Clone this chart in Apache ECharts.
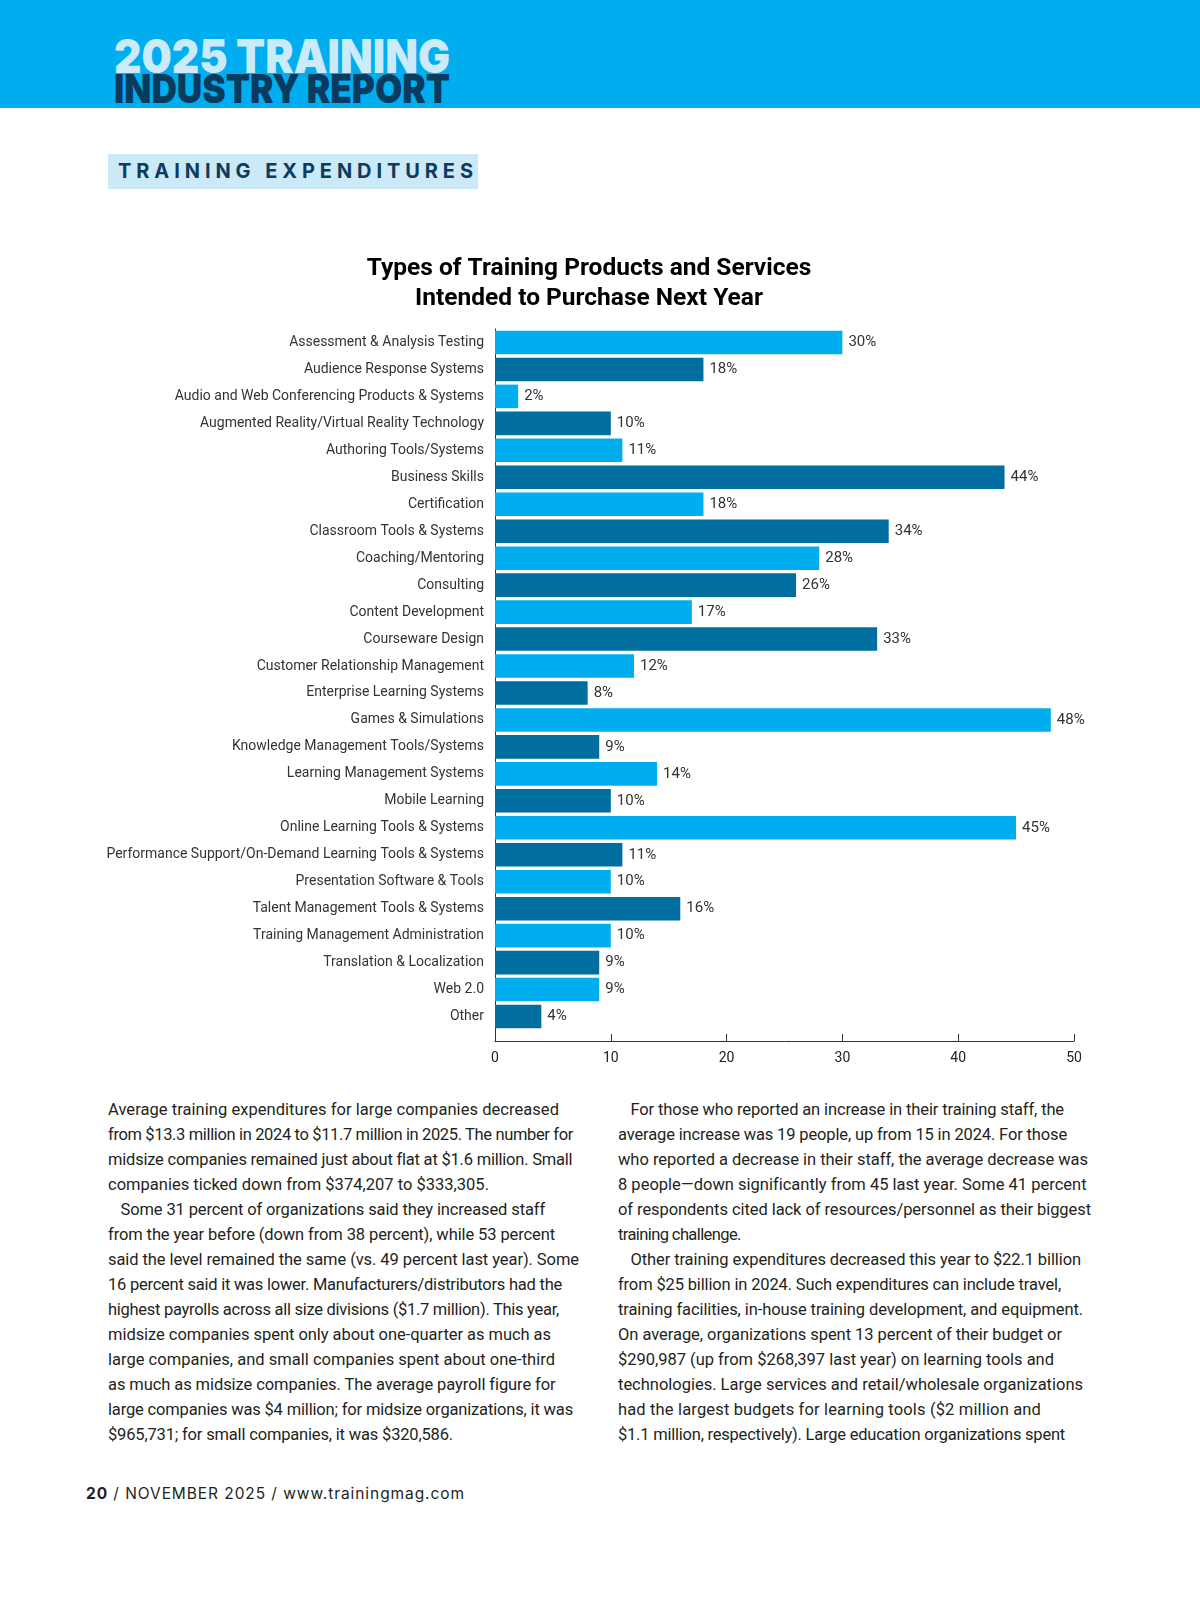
<!DOCTYPE html>
<html><head><meta charset="utf-8">
<script src="https://cdn.jsdelivr.net/npm/echarts@6/dist/echarts.min.js"></script>
<style>
html,body{margin:0;padding:0;background:#fff;}
body{width:1200px;height:1613px;position:relative;overflow:hidden;font-family:Roboto,sans-serif;}
#band{position:absolute;left:0;top:0;width:1200px;height:108px;background:#00AEEF;}
.hd{position:absolute;left:114px;font-family:Inter,sans-serif;font-weight:900;white-space:nowrap;transform-origin:0 0;line-height:1;}
#h1{top:32px;font-size:47px;color:#CBEAFA;}
#h2{top:69px;font-size:40px;color:#083B5E;}
#sec{position:absolute;left:108px;top:154px;width:370px;height:35px;background:#CCE9F8;}
#secT{position:absolute;left:10px;top:0;line-height:35px;font-family:Inter,sans-serif;font-weight:700;font-size:20px;color:#0D3B5C;white-space:nowrap;}
#chart{position:absolute;left:0;top:220px;width:1200px;height:860px;}
.col{position:absolute;top:1097px;font-family:Roboto,sans-serif;font-size:16.5px;line-height:25px;color:#231F20;}
.col div{white-space:nowrap;height:25px;}
.col .ind{padding-left:12.5px;}
#colL{left:108px;}
#colR{left:618px;}
#foot{position:absolute;left:86px;top:1484px;font-family:Inter,sans-serif;font-size:15.5px;line-height:20px;color:#231F20;white-space:nowrap;}
#foot b{font-weight:700;}
</style></head>
<body>
<div id="band"></div>
<div class="hd" id="h1">2025 TRAINING</div>
<div class="hd" id="h2">INDUSTRY REPORT</div>
<div id="sec"><span id="secT">TRAINING EXPENDITURES</span></div>
<div id="chart"></div>
<div class="col" id="colL"></div>
<div class="col" id="colR"></div>
<div id="foot"><b>20</b> / NOVEMBER 2025 / www.trainingmag.com</div>
<script>
const categories = [
  'Assessment & Analysis Testing',
  'Audience Response Systems',
  'Audio and Web Conferencing Products & Systems',
  'Augmented Reality/Virtual Reality Technology',
  'Authoring Tools/Systems',
  'Business Skills',
  'Certification',
  'Classroom Tools & Systems',
  'Coaching/Mentoring',
  'Consulting',
  'Content Development',
  'Courseware Design',
  'Customer Relationship Management',
  'Enterprise Learning Systems',
  'Games & Simulations',
  'Knowledge Management Tools/Systems',
  'Learning Management Systems',
  'Mobile Learning',
  'Online Learning Tools & Systems',
  'Performance Support/On-Demand Learning Tools & Systems',
  'Presentation Software & Tools',
  'Talent Management Tools & Systems',
  'Training Management Administration',
  'Translation & Localization',
  'Web 2.0',
  'Other'
];
const values = [30, 18, 2, 10, 11, 44, 18, 34, 28, 26, 17, 33, 12, 8, 48, 9, 14, 10, 45, 11, 10, 16, 10, 9, 9, 4];
const xMin = 0, xMax = 50, xStep = 10;

const leftLines = [
  'Average training expenditures for large companies decreased',
  'from $13.3 million in 2024 to $11.7 million in 2025. The number for',
  'midsize companies remained just about flat at $1.6 million. Small',
  'companies ticked down from $374,207 to $333,305.',
  'Some 31 percent of organizations said they increased staff',
  'from the year before (down from 38 percent), while 53 percent',
  'said the level remained the same (vs. 49 percent last year). Some',
  '16 percent said it was lower. Manufacturers/distributors had the',
  'highest payrolls across all size divisions ($1.7 million). This year,',
  'midsize companies spent only about one-quarter as much as',
  'large companies, and small companies spent about one-third',
  'as much as midsize companies. The average payroll figure for',
  'large companies was $4 million; for midsize organizations, it was',
  '$965,731; for small companies, it was $320,586.'
];
const rightLines = [
  'For those who reported an increase in their training staff, the',
  'average increase was 19 people, up from 15 in 2024. For those',
  'who reported a decrease in their staff, the average decrease was',
  '8 people\u2014down significantly from 45 last year. Some 41 percent',
  'of respondents cited lack of resources/personnel as their biggest',
  'training challenge.',
  'Other training expenditures decreased this year to $22.1 billion',
  'from $25 billion in 2024. Such expenditures can include travel,',
  'training facilities, in-house training development, and equipment.',
  'On average, organizations spent 13 percent of their budget or',
  '$290,987 (up from $268,397 last year) on learning tools and',
  'technologies. Large services and retail/wholesale organizations',
  'had the largest budgets for learning tools ($2 million and',
  '$1.1 million, respectively). Large education organizations spent'
];
// paragraph-first (indented) lines
const leftIndent = [4];
const rightIndent = [0, 6];
// layout: right edge of each printed line (page px)
const leftEnds = [559, 573, 572, 489, 545, 555, 579, 562, 559, 551, 555, 555, 573, 453];
const rightEnds = [1064, 1067, 1088, 1086, 1091, 740, 1081, 1061, 1083, 1062, 1054, 1083, 1041, 1065];

function measure(text, font) {
  const s = document.createElement('span');
  s.style.cssText = 'position:absolute;visibility:hidden;white-space:nowrap;font:' + font;
  s.textContent = text;
  document.body.appendChild(s);
  const w = s.getBoundingClientRect().width;
  s.remove();
  return w;
}
function fillCol(id, lines, indents, ends, x0) {
  const el = document.getElementById(id);
  lines.forEach((t, i) => {
    const d = document.createElement('div');
    const ind = indents.includes(i);
    if (ind) d.className = 'ind';
    d.textContent = t;
    const target = ends[i] - x0 - (ind ? 12.5 : 0);
    const w = measure(t, '16.5px Roboto');
    let ls = (target - w) / t.length;
    ls = Math.max(-0.6, Math.min(0.4, ls));
    d.style.letterSpacing = ls + 'px';
    el.appendChild(d);
  });
}
fillCol('colL', leftLines, leftIndent, leftEnds, 108);
fillCol('colR', rightLines, rightIndent, rightEnds, 618);

(function () {
  const st = document.getElementById('secT');
  const ws = measure(st.textContent, '700 20px Inter');
  st.style.letterSpacing = ((355 - ws) / (st.textContent.length - 1)) + 'px';
  const f = document.getElementById('foot');
  const wf = f.getBoundingClientRect().width;
  f.style.letterSpacing = ((379 - wf) / f.textContent.length) + 'px';
  ['h1', 'h2'].forEach(id => {
    const h = document.getElementById(id);
    const wh = h.getBoundingClientRect().width;
    h.style.transform = 'scaleX(' + (336 / wh) + ')';
  });
})();

const chart = echarts.init(document.getElementById('chart'), null, { renderer: 'canvas' });
chart.setOption({
  animation: false,
  title: {
    text: 'Types of Training Products and Services\nIntended to Purchase Next Year',
    left: 584, top: 29, textAlign: 'center',
    textStyle: { fontFamily: 'Roboto', fontWeight: 'bold', fontSize: 24.5, lineHeight: 30, color: '#000' }
  },
  grid: [
    { left: 495, right: 126, top: 109, bottom: 50 },
    { left: 495, right: 126, top: 109, bottom: 39 }
  ],
  xAxis: [
    { gridIndex: 0, type: 'value', min: xMin, max: xMax, interval: xStep, show: false },
    {
      gridIndex: 1, type: 'value', min: xMin, max: xMax, interval: xStep,
      axisLine: { show: true, lineStyle: { color: '#333', width: 1 } },
      axisTick: { show: true, inside: true, length: 7, lineStyle: { color: '#333', width: 1 } },
      axisLabel: { show: true, margin: 10, fontSize: 14, color: '#222', fontFamily: 'Roboto' },
      splitLine: { show: false }
    }
  ],
  yAxis: [
    {
      gridIndex: 0, type: 'category', data: categories, inverse: true,
      axisLine: { show: false }, axisTick: { show: false },
      axisLabel: { margin: 11, fontSize: 14, color: '#333', fontFamily: 'Roboto' }
    },
    {
      gridIndex: 1, type: 'value', min: 0, max: 1,
      axisLine: { show: true, lineStyle: { color: '#333', width: 1 } },
      axisTick: { show: false }, axisLabel: { show: false }, splitLine: { show: false }
    }
  ],
  series: [{
    type: 'bar', xAxisIndex: 0, yAxisIndex: 0, data: values,
    barCategoryGap: '12.5%',
    itemStyle: { color: p => (p.dataIndex % 2 ? '#006E9E' : '#00AEEF') },
    label: { show: true, position: 'right', distance: 6, formatter: '{c}%', fontSize: 15, color: '#333', fontFamily: 'Roboto' }
  }]
});
</script>
</body></html>
